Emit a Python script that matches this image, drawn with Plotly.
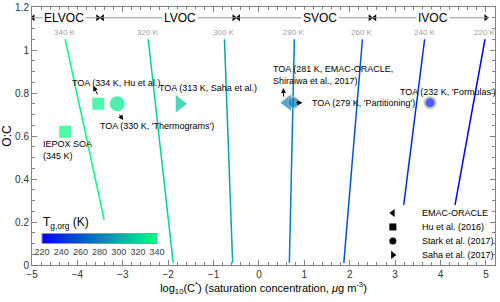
import plotly.graph_objects as go

# ---------------- data ----------------
iso_T = [340, 320, 300, 280, 260, 240, 220]
iso_x_top = [-4.27, -2.44, -0.76, 0.78, 2.28, 3.65, 4.98]
iso_y_top = [1.05, 1.05, 1.05, 1.05, 1.05, 1.05, 1.05]
iso_x_bot = [-3.41, -1.89, -0.58, 0.67, 1.87, 3.19, 4.32]
iso_y_bot = [0.21, 0.01, 0.01, 0.01, 0.01, 0.28, 0.28]

pt_names = ["IEPOX SOA", "Hu et al.", "Thermograms", "Saha et al.", "EMAC-ORACLE", "Partitioning", "Formulas"]
pt_T = [345, 334, 330, 313, 281, 279, 232]
pt_x = [-4.27, -3.54, -3.12, -1.75, 0.63, 0.76, 3.77]
pt_y = [0.62, 0.75, 0.75, 0.75, 0.755, 0.755, 0.755]
pt_symbol = ["square", "square", "circle", "triangle-right", "triangle-left", "circle", "circle"]

band_names = ["ELVOC", "LVOC", "SVOC", "IVOC"]
band_edges = [-5.0, -3.5, -0.5, 2.5, 5.05]
band_label_x = [-4.3, -1.75, 1.35, 3.83]

legend_names = ["EMAC-ORACLE", "Hu et al. (2016)", "Stark et al. (2017)", "Saha et al. (2017)"]
legend_symbols = ["triangle-left", "square", "circle", "triangle-right"]

T_min, T_max = 220, 340
colorbar_ticks = [220, 240, 260, 280, 300, 320, 340]

# ---------------- styling ----------------
winter = [[0, "rgb(0,0,255)"], [1, "rgb(0,255,128)"]]
FONT = "Arial, Liberation Sans, sans-serif"
pt_size = [12, 12, 15, 15, 14, 11, 11]
pt_line_w = [0, 0, 0, 0, 0, 1.5, 2]

def winter_color(T):
    f = (min(max(T, T_min), T_max) - T_min) / (T_max - T_min)
    return "rgb(0,%d,%d)" % (round(255 * f), round(255 - 127 * f))

fig = go.Figure()

# isotherms
for T, xt, yt, xb, yb in zip(iso_T, iso_x_top, iso_y_top, iso_x_bot, iso_y_bot):
    fig.add_trace(go.Scatter(x=[xt, xb], y=[yt, yb], mode="lines",
                             line=dict(color=winter_color(T), width=1.5),
                             showlegend=False, hoverinfo="skip"))
    fig.add_annotation(x=xt, y=yt, text="%d K" % T, showarrow=False,
                       yanchor="bottom", font=dict(size=8, color="rgb(160,160,160)"))

# data points with colorbar
fig.add_trace(go.Scatter(
    x=pt_x, y=pt_y, mode="markers", showlegend=False, text=pt_names,
    marker=dict(symbol=pt_symbol, size=pt_size, color=pt_T, cmin=T_min, cmax=T_max,
                colorscale=winter,
                line=dict(color="rgb(170,170,170)", width=pt_line_w),
                colorbar=dict(orientation="h", x=0.146, xanchor="center", y=0.08,
                              yanchor="middle", len=0.248, thickness=10,
                              outlinecolor="rgb(150,150,150)", outlinewidth=1,
                              tickvals=colorbar_ticks, ticks="", tickangle=0,
                              ypad=0, xpad=0,
                              tickfont=dict(size=9, color="rgb(60,60,60)"))),
))
fig.add_annotation(x=-4.8, y=0.15, xanchor="left", yanchor="bottom",
                   text="T<sub>g,org</sub> (K)", showarrow=False,
                   font=dict(size=12, color="black"))

# volatility bands
yb = 1.15
for i, name in enumerate(band_names):
    x0, x1 = band_edges[i], band_edges[i + 1]
    fig.add_shape(type="line", x0=x0, x1=x1, y0=yb, y1=yb,
                  line=dict(color="rgb(150,150,150)", width=1))
    fig.add_annotation(x=band_label_x[i], y=yb, text=name, showarrow=False,
                       bgcolor="white", font=dict(size=12, color="black"),
                       borderpad=1)
heads_x, heads_sym = [], []
for i in range(len(band_names)):
    x0, x1 = band_edges[i], band_edges[i + 1]
    heads_x += [x0 + 0.05 if i > 0 else x0 + 0.02, x1 - 0.05]
    heads_sym += ["triangle-left", "triangle-right"]
fig.add_trace(go.Scatter(x=heads_x, y=[yb] * len(heads_x), mode="markers",
                         marker=dict(symbol=heads_sym, size=6, color="black"),
                         showlegend=False, hoverinfo="skip"))

# point annotations
ann_font = dict(size=9, color="black")
fig.add_annotation(x=-3.15, y=0.847, text="TOA (334 K, Hu et al.)", showarrow=False, font=ann_font)
fig.add_annotation(x=-2.24, y=0.647, text="TOA (330 K, 'Thermograms')", showarrow=False, font=ann_font)
fig.add_annotation(x=-1.115, y=0.823, text="TOA (313 K, Saha et al.)", showarrow=False, font=ann_font)
fig.add_annotation(x=0.276, y=0.886, text="TOA (281 K, EMAC-ORACLE,<br>Shiraiwa et al., 2017)",
                   showarrow=False, xanchor="left", align="left", font=ann_font)
fig.add_annotation(x=1.115, y=0.753, text="TOA (279 K, 'Partitioning')", showarrow=False,
                   xanchor="left", font=ann_font)
fig.add_annotation(x=4.17, y=0.805, text="TOA (232 K, 'Formulas')", showarrow=False, font=ann_font)
fig.add_annotation(x=-4.8, y=0.535, text="IEPOX SOA<br>(345 K)", showarrow=False,
                   xanchor="left", align="left", font=ann_font)

arrow_kw = dict(text="", showarrow=True, arrowhead=2, arrowsize=1, arrowwidth=1,
                arrowcolor="black", axref="pixel", ayref="pixel")
fig.add_annotation(x=-3.65, y=0.833, ax=5, ay=10, **arrow_kw)
fig.add_annotation(x=-2.99, y=0.674, ax=-5, ay=-7, **arrow_kw)
fig.add_annotation(x=0.54, y=0.823, ax=0, ay=10, **arrow_kw)
fig.add_annotation(x=0.96, y=0.755, ax=-8, ay=0, **arrow_kw)

# custom legend
leg_y = [0.242, 0.177, 0.112, 0.047]
fig.add_trace(go.Scatter(x=[2.95] * 4, y=leg_y, mode="markers",
                         marker=dict(symbol=legend_symbols, size=7, color="black"),
                         showlegend=False, hoverinfo="skip"))
for name, yy in zip(legend_names, leg_y):
    fig.add_annotation(x=3.55, y=yy, text=name, showarrow=False, xanchor="left",
                       font=dict(size=9, color="black"))

axis_common = dict(showline=True, linecolor="rgb(130,130,130)", linewidth=1, mirror="ticks",
                   ticks="inside", ticklen=5, tickcolor="rgb(130,130,130)",
                   showgrid=False, zeroline=False, automargin=False,
                   tickfont=dict(size=10, color="rgb(50,50,50)"))
fig.update_xaxes(range=[-5, 5.2], dtick=1, tick0=0,
                 minor=dict(ticks="inside", ticklen=3, dtick=0.2, tickcolor="rgb(130,130,130)"),
                 title=dict(text="log<sub>10</sub>(C<sup>*</sup>) (saturation concentration, <i>μ</i>g m<sup>-3</sup>)",
                            font=dict(size=11, color="black"), standoff=2),
                 **axis_common)
fig.update_yaxes(range=[0, 1.2], dtick=0.2, tick0=0,
                 minor=dict(ticks="inside", ticklen=3, dtick=0.05, tickcolor="rgb(130,130,130)"),
                 title=dict(text="O:C", font=dict(size=12, color="black"), standoff=2),
                 **axis_common)

fig.update_layout(width=500, height=302, margin=dict(l=32, r=5, t=7, b=37, autoexpand=False),
                  plot_bgcolor="white", paper_bgcolor="white",
                  font=dict(family=FONT), showlegend=False)

fig.write_html("out.html", config={"displayModeBar": False},
               post_script="document.body.style.margin='0';document.body.style.padding='0';")
